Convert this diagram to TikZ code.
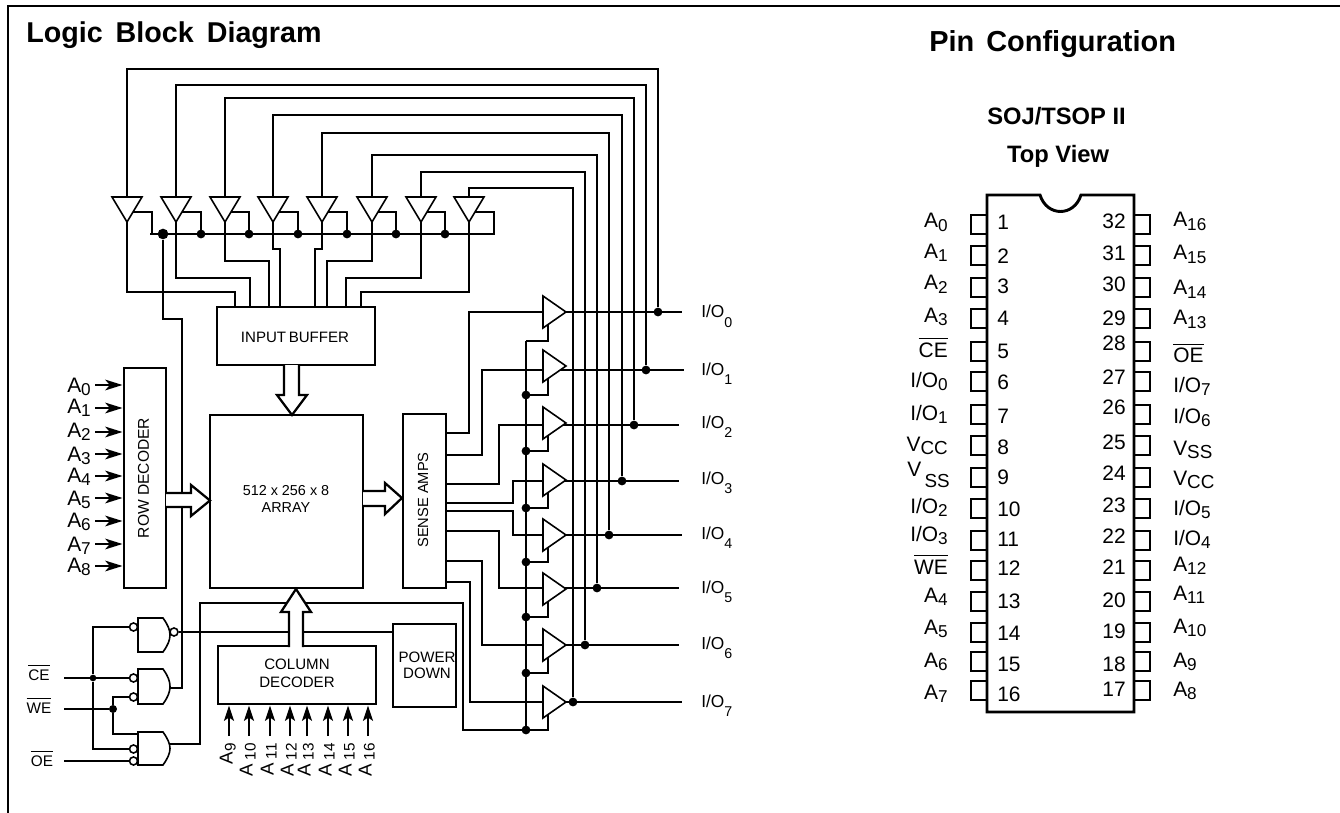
\documentclass[tikz,border=0pt]{standalone}
\usepackage{fontspec}
\usepackage{graphicx}
\setmainfont{Liberation Sans}
\usetikzlibrary{arrows.meta,positioning,calc}

\newcommand{\sig}[3][.82]{#2\raisebox{-.17em}{\scalebox{#1}{#3}}}
\newcommand{\siglow}[3][.82]{#2\raisebox{-.55em}{\scalebox{#1}{#3}}}
\newcommand{\ovl}[1]{\leavevmode\vbox{\hrule height .7pt \kern 2.6pt \hbox{#1}}}

\tikzset{
  wire/.style={line width=1.7pt},
  thickwire/.style={line width=2.1pt},
  thinwire/.style={line width=1.3pt},
  outline/.style={line width=1.2pt, fill=white},
  blockbox/.style={draw, line width=2.2pt, inner sep=0pt, align=center, font=\fontsize{11}{13}\selectfont},
  fatarrow/.style={draw, line width=1.7pt, fill=white},
  dotnode/.style={circle, fill=black, inner sep=0pt, minimum size=6.6pt},
  bubble/.style={circle, draw, line width=1.2pt, fill=white, inner sep=0pt, minimum size=6pt},
  pinlabel/.style={inner sep=0pt, font=\fontsize{15.7}{18}\selectfont},
  iolabel/.style={inner sep=0pt, font=\fontsize{13}{15}\selectfont},
  ctrllabel/.style={inner sep=0pt, anchor=base, font=\fontsize{11.5}{14}\selectfont},
  rowarrow/.style={line width=1.7pt, -{Stealth[length=13pt,width=8pt,inset=3.5pt]}},
  colarrow/.style={line width=1.7pt, -{Stealth[length=11.5pt,width=7.5pt,inset=2.5pt]}}
}

\begin{document}
\begin{tikzpicture}[x=.75pt,y=-.75pt]
\useasboundingbox (0,0) rectangle (1340,813);

\draw[wire] (8,813) -- (8,6) -- (1340,6);

\node[inner sep=0pt,anchor=base west,font=\fontsize{21.5}{24}\selectfont\bfseries] (lbdtitle) at (26,43) {Logic\hspace{3.8pt} Block\hspace{3.8pt} Diagram};
\node[inner sep=0pt,anchor=base west,font=\fontsize{21.7}{24}\selectfont\bfseries] (pintitle) at (929,52) {Pin\hspace{3pt} Configuration};
\node[inner sep=0pt,anchor=base,font=\fontsize{17.8}{20}\selectfont\bfseries] (pkgname) at (1056.5,125) {SOJ/TSOP II};
\node[inner sep=0pt,anchor=base,font=\fontsize{17.8}{20}\selectfont\bfseries] (topview) at (1058,163) {Top View};

% main blocks
\node[blockbox,minimum width=31.5pt,minimum height=165pt] (rowdec) at (145,478) {};
\node[rotate=90,inner sep=0pt,font=\fontsize{11.7}{13}\selectfont] (rowtxt) at (143.5,478) {ROW DECODER};
\node[blockbox,minimum width=114.75pt,minimum height=129.75pt] (array) at (286.5,501.5) {};
\node[inner sep=0pt,align=center,font=\fontsize{10.8}{12.7}\selectfont] (arrtxt) at (286,499) {512 x 256 x 8\\ARRAY};
\node[blockbox,minimum width=32.25pt,minimum height=130.5pt] (samps) at (424.5,501) {};
\node[rotate=90,inner sep=0pt,font=\fontsize{11}{13}\selectfont] (satxt) at (423,500) {SENSE AMPS};
\node[blockbox,minimum width=118.5pt,minimum height=43.5pt] (inbuf) at (296,336) {};
\node[inner sep=0pt,font=\fontsize{11.3}{13}\selectfont] (ibtxt) at (295,337) {INPUT\hspace{-1.2pt} BUFFER};
\node[blockbox,minimum width=118.5pt,minimum height=43.5pt] (coldec) at (297,675) {};
\node[inner sep=0pt,align=center,font=\fontsize{11.3}{13.5}\selectfont] (coltxt) at (297,673) {COLUMN\\DECODER};
\node[blockbox,minimum width=47.25pt,minimum height=62.25pt] (pwrdn) at (424.5,665.5) {};
\node[inner sep=0pt,align=center,font=\fontsize{11.3}{12}\selectfont] (pwrtxt) at (427,665) {POWER\\DOWN};

% write buffers
\foreach \i/\x in {1/127,2/176,3/225,4/273,5/322,6/372,7/421,8/469}
  {
    \coordinate (btop\i) at (\x,197);
    \coordinate (btip\i) at (\x,222);
    \coordinate (bside\i) at (\x+6,212);
  }
\foreach \i/\x in {0/658,1/646,2/634,3/622,4/609,5/597,6/585,7/573}
  {
    \coordinate (vert\i) at (\x,0);
  }
\foreach \i/\y in {0/312,1/370,2/425,3/481,4/535,5/588,6/645,7/702}
  {
    \coordinate (oin\i) at (543,\y);
    \coordinate (oout\i) at (560,\y);
  }
\node[dotnode] (iod0) at (vert0 |- oin0) {};
\node[dotnode] (iod1) at (vert1 |- oin1) {};
\node[dotnode] (iod2) at (vert2 |- oin2) {};
\node[dotnode] (iod3) at (vert3 |- oin3) {};
\node[dotnode] (iod4) at (vert4 |- oin4) {};
\node[dotnode] (iod5) at (vert5 |- oin5) {};
\node[dotnode] (iod6) at (vert6 |- oin6) {};
\node[dotnode] (iod7) at (vert7 |- oin7) {};

% feedback from I/O lines to the write buffers
\foreach \i/\h/\o in {1/128/0,2/112/1,3/99/2,4/82/3,5/64/4,6/42/5,7/25/6,8/9/7}
  {
    \draw[wire] (btop\i) -- ++(0,-\h) -| (iod\o);
  }

% write buffers into input buffer
\foreach \i/\h/\x in {1/70/235,2/56/250,3/39/269,4/27/280,5/27/315,6/39/327,7/56/346,8/70/361}
  {
    \coordinate (ibin\i) at (\x,307);
    \draw[wire] (btip\i) -- ++(0,\h) -| (ibin\i);
  }

% enable bus of the write buffers
\coordinate (busl) at (150,234);
\coordinate (busr) at (495,234);
\draw[thickwire] (busl) -- (busr);
\node[dotnode,minimum size=8pt] (endot) at (163,234) {};
\foreach \i/\x in {1/152,2/201,3/249,4/298,5/347,6/396,7/445,8/494}
  {
    \coordinate (bstub\i) at (\x,234);
    \draw[thinwire] (bside\i) -| (bstub\i);
  }
\foreach \i in {2,3,4,5,6,7}
  {
    \node[dotnode] (bdot\i) at (bstub\i) {};
  }
\foreach \i/\x in {1/127,2/176,3/225,4/273,5/322,6/372,7/421,8/469}
  {
    \draw[outline] (\x-15,197) -- (\x+15,197) -- (\x,222) -- cycle;
  }

% sense amp outputs
\foreach \i/\y/\x in {0/433/469,1/455/482,2/484/499,3/503/513,4/511/513,5/531/499,6/561/482,7/582/470}
  {
    \draw[wire] (samps.east |- 0,\y) -- (\x,\y) |- (oin\i);
  }

% output enable bus
\foreach \i/\t/\e in {0/312/341,1/366/395,2/423/451,3/480/508,4/535/562,5/589/617,6/645/673,7/702/730}
  {
    \coordinate (edot\i) at (526,\e);
    \draw[thinwire] (548,\t+12) |- (edot\i);
  }
\draw[thickwire] (edot0) -- (edot7);
\foreach \i in {1,...,7}
  {
    \node[dotnode] (edn\i) at (edot\i) {};
  }

% I/O lines
\foreach \i/\e in {0/682,1/684,2/679,3/679,4/682,5/679,6/679,7/682}
  {
    \draw[wire] (oout\i) -- (\e,0 |- oout\i);
  }
\foreach \i/\t in {0/312,1/366,2/423,3/480,4/535,5/589,6/645,7/702}
  {
    \draw[outline] (543,\t-16) -- (566,\t) -- (543,\t+16) -- cycle;
  }
\foreach \i/\b in {0/318,1/375,2/428,3/484,4/539,5/593,6/649,7/707}
  {
    \node[iolabel,anchor=base west] (iotxt\i) at (701,\b) {\siglow{I/O}{\i}};
  }

% control gates
\foreach \n/\t/\b in {1/618/652,2/669/704,3/732/765}
  {
    \draw[outline] (138,\t) -- (163,\t) .. controls (168,\t+7) and (170,\t+12) .. (170,{(\t+\b)/2}) .. controls (170,\b-12) and (168,\b-7) .. (163,\b) -- (138,\b) -- cycle;
  }
\node[bubble] (g1a) at (133.5,627) {};
\node[bubble] (g1o) at (174,632) {};
\node[bubble] (g2a) at (133.5,678) {};
\node[bubble] (g2b) at (133.5,697) {};
\node[bubble] (g3a) at (133.5,749) {};
\node[bubble] (g3b) at (133.5,761) {};
\coordinate (g2out) at (170,688);
\coordinate (g3out) at (170,744);
\coordinate (g3top) at (138,734);
\coordinate (cein) at (64,678);
\coordinate (wein) at (64,709);
\coordinate (oein) at (64,761);
\node[dotnode,minimum size=5pt] (cej) at (93,678) {};
\node[dotnode,minimum size=6pt] (wej) at (113,709) {};

\draw[wire] (cein) -- (g2a.west);
\draw[wire] (wein) -- (wej);
\draw[wire] (oein) -- (g3b.west);
\draw[thickwire] (g1a.west) -| (cej) -- (cej |- g3a) -- (g3a.west);
\draw[wire] (g2b.west) -| (wej) |- (g3top);

\node[ctrllabel] (cetxt) at (39,680) {\ovl{CE}};
\node[ctrllabel] (wetxt) at (39,713) {\ovl{WE}};
\node[ctrllabel] (oetxt) at (42,766) {\ovl{OE}};

\coordinate (enc) at (182,319);
\draw[wire] (endot) |- (enc) -- (enc |- g2out) -- (g2out);
\coordinate (oeup) at (200,603);
\coordinate (oedn) at (463,730);
\draw[thickwire] (g3out) -| (oeup) -| (oedn) -- (edot7);
\draw[wire] (g1o.east) -- (pwrdn.west |- g1o);

% data paths
\draw[fatarrow] (166,493) -- (191,493) -- (191,485) -- (210,500.5) -- (191,516) -- (191,507) -- (166,507);
\draw[fatarrow] (363,491) -- (385,491) -- (385,483) -- (402,498) -- (385,514) -- (385,506) -- (363,506);
\draw[fatarrow] (284,365) -- (284,395) -- (277,395) -- (292,415) -- (307,395) -- (299,395) -- (299,365);
\draw[fatarrow] (289,647) -- (289,612) -- (281,612) -- (296,589) -- (311,612) -- (303,612) -- (303,647);

% row and column address inputs
\foreach \i/\y/\b in {0/385/392,1/408/413,2/432/437,3/454/461,4/476/482,5/498/505,6/521/527,7/544/551,8/566/572}
  {
    \coordinate (rin\i) at (95,\y);
    \draw[rowarrow] (rin\i) -- (rowdec.west |- rin\i);
    \node[pinlabel,anchor=base west] (rtxt\i) at (67,\b) {\sig{A}{\i}};
  }
\foreach \i/\x/\t in {9/229/A,10/249/A\hspace{3pt},11/270/A\hspace{3pt},12/290/A\hspace{3pt},13/307/A\hspace{3pt},14/328/A\hspace{3pt},15/348/A\hspace{3pt},16/368/A\hspace{3pt}}
  {
    \coordinate (cin\i) at (\x,736);
    \draw[colarrow] (cin\i) -- (\x,0 |- coldec.south);
    \node[rotate=90,inner sep=0pt,anchor=base east,font=\fontsize{14}{16}\selectfont] (ctxt\i) at (\x+3.5,743) {\sig{\t}{\i}};
  }

% package outline
\draw[line width=2.2pt] (987,195) -- (1040,195) .. controls (1047,217) and (1074,217) .. (1081,195) -- (1134,195) -- (1134,712) -- (987,712) -- cycle;

\foreach \t in {215,246,278,309,342,372,405,436,468,499,531,561,592,623,652,681}
  {
    \draw[thinwire] (987,\t) -- (971,\t) -- (971,\t+19) -- (987,\t+19);
    \draw[thinwire] (1134,\t) -- (1150,\t) -- (1150,\t+19) -- (1134,\t+19);
  }

\foreach \n/\y in {1/222,2/256,3/286,4/318,5/351,6/382,7/416,8/447,9/477,10/509,11/539,12/568,13/601,14/633,15/664,16/694}
  {
    \node[pinlabel,anchor=west] (pl\n) at (997,\y) {\n};
  }
\foreach \n/\y in {32/221,31/253,30/284,29/318,28/343,27/377,26/407,25/442,24/473,23/505,22/536,21/567,20/600,19/631,18/664,17/689}
  {
    \node[pinlabel,anchor=east] (pr\n) at (1126,\y) {\n};
  }

\foreach \n/\y/\t in {1/228/\sig{A}{0},2/258/\sig{A}{1},3/290/\sig{A}{2},4/322/\sig{A}{3},5/357/\ovl{CE},6/387/\sig{I/O}{0},7/420/\sig{I/O}{1},8/451/\sig[.9]{V}{CC},10/513/\sig{I/O}{2},11/541/\sig{I/O}{3},12/574/\ovl{WE},13/602/\sig{A}{4},14/634/\sig{A}{5},15/667/\sig{A}{6},16/699/\sig{A}{7}}
  {
    \node[pinlabel,anchor=base east] (ls\n) at (948,\y) {\t};
  }
\node[pinlabel,anchor=base east] (ls9) at (950,476) {V\hspace{2.5pt}\raisebox{-.55em}{\scalebox{.9}{SS}}};

\foreach \n/\y/\t in {32/227/\sig{A}{16},31/260/\sig{A}{15},30/295/\sig{A}{14},29/325/\sig{A}{13},28/363/\ovl{OE},27/392/\sig{I/O}{7},26/423/\sig{I/O}{6},25/455/\sig[.9]{V}{SS},24/485/\sig[.9]{V}{CC},23/515/\sig{I/O}{5},22/545/\sig{I/O}{4},21/571/\sig{A}{12},20/600/\sig{A}{11},19/633/\sig{A}{10},18/667/\sig{A}{9},17/696/\sig{A}{8}}
  {
    \node[pinlabel,anchor=base west] (rs\n) at (1173,\y) {\t};
  }
\end{tikzpicture}
\end{document}
